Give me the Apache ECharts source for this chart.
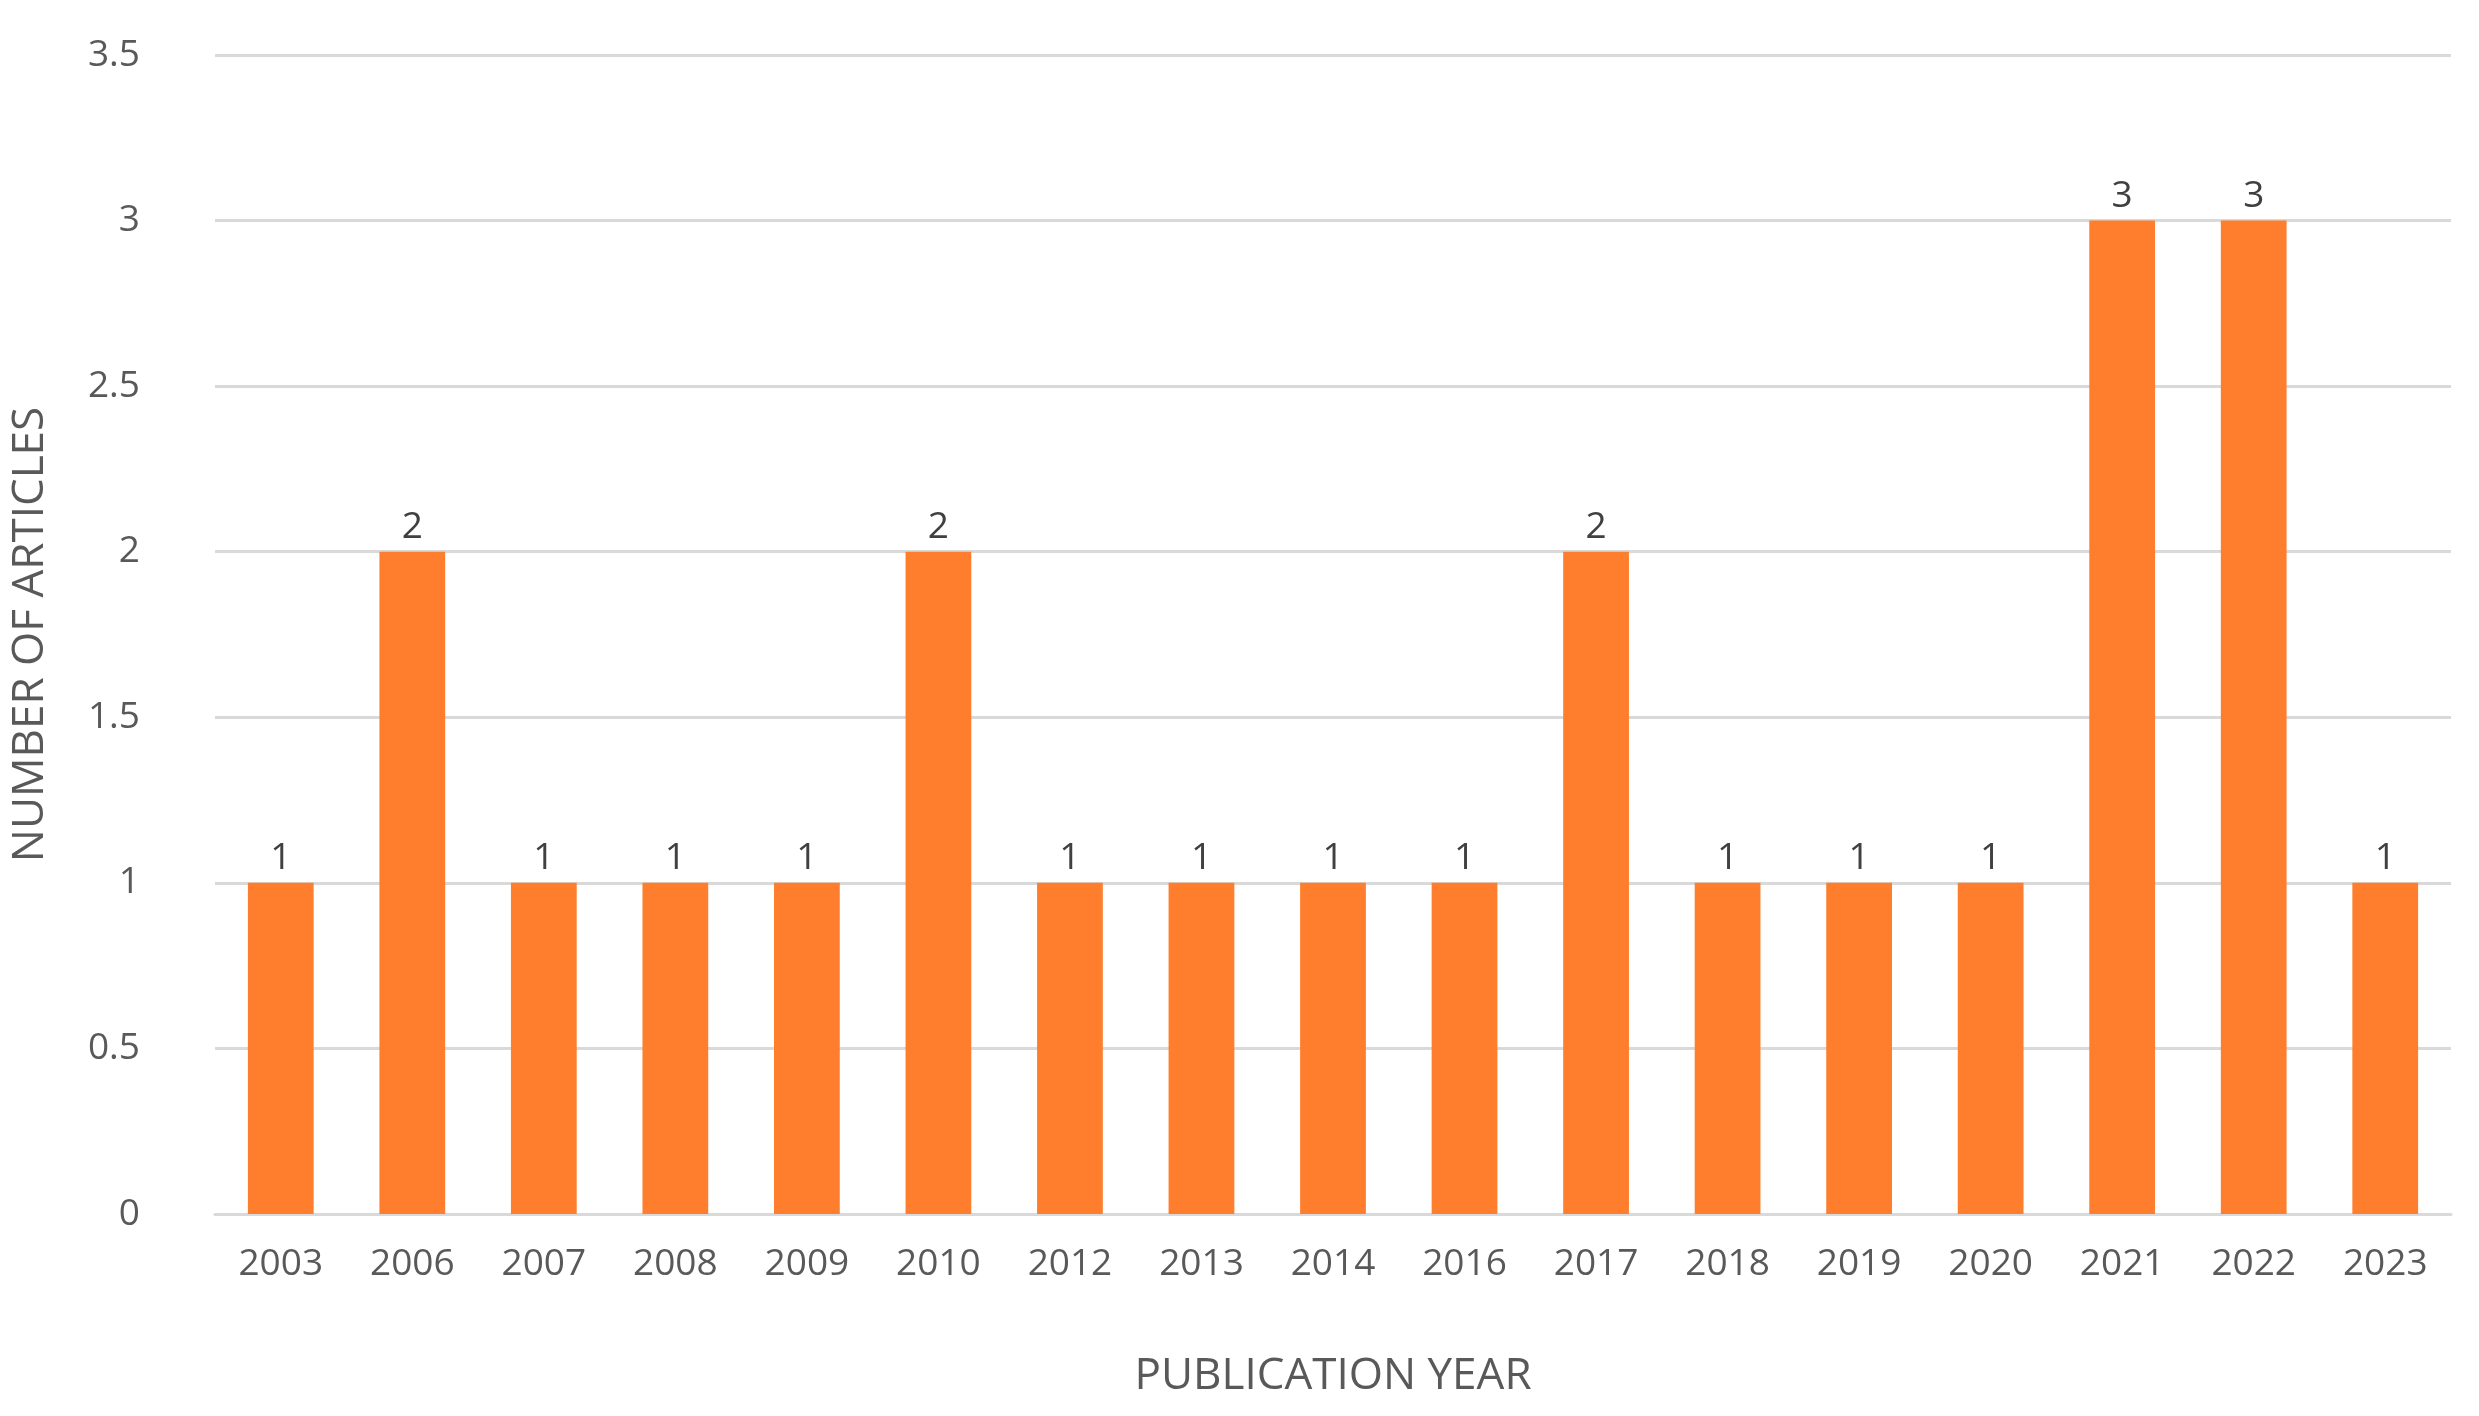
<!DOCTYPE html>
<html><head><meta charset="utf-8">
<script src="https://cdn.jsdelivr.net/npm/echarts@6/dist/echarts.min.js"></script>
<style>html,body{margin:0;padding:0;background:#fff}#c{width:2479px;height:1416px}</style>
</head><body><div id="c"></div>
<script>
const years = ['2003','2006','2007','2008','2009','2010','2012','2013','2014','2016','2017','2018','2019','2020','2021','2022','2023'];
const articles = [1,2,1,1,1,2,1,1,1,1,2,1,1,1,3,3,1];
const yTicks = [0,0.5,1,1.5,2,2.5,3,3.5];
const chart = echarts.init(document.getElementById('c'));
const font = 'Open Sans';
chart.setOption({
  animation:false,
  grid:{left:213,right:28,top:55,bottom:202},
  xAxis:{type:'category',data:years,
    name:'PUBLICATION YEAR',nameLocation:'middle',nameGap:140,
    nameTextStyle:{fontSize:44,color:'#595959',fontFamily:font},
    axisLine:{lineStyle:{color:'#d9d9d9',width:3}},axisTick:{show:false},
    axisLabel:{fontSize:37,color:'#595959',fontFamily:font,margin:32,interval:0}},
  yAxis:{type:'value',min:0,max:3.5,interval:0.5,
    name:'NUMBER OF ARTICLES',nameLocation:'middle',nameGap:163,
    nameTextStyle:{fontSize:44,color:'#595959',fontFamily:font},
    axisLine:{show:false},axisTick:{show:false},
    splitLine:{lineStyle:{color:'#d9d9d9',width:3}},
    axisLabel:{fontSize:37,color:'#595959',fontFamily:font,margin:75,
      formatter:v=>yTicks.includes(v)?String(v):''}},
  series:[{type:'bar',data:articles,barWidth:'50%',
    itemStyle:{color:'#FE7E2D'},
    label:{show:true,position:'top',fontSize:37,color:'#404040',fontFamily:font,distance:6}}]
});
</script></body></html>
